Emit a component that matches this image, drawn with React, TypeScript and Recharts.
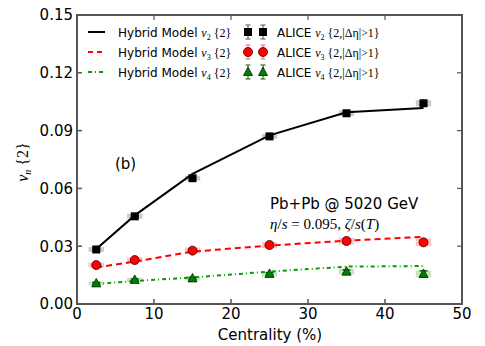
import React from "react";
import {
  ComposedChart,
  Line,
  Scatter,
  XAxis,
  YAxis,
  ErrorBar,
  ReferenceArea,
} from "recharts";

// centrality bins (%)
const centrality = [2.5, 7.5, 15, 25, 35, 45];

// hybrid model curves
const hybridV2 = [0.0285, 0.046, 0.0675, 0.0875, 0.0995, 0.1017];
const hybridV3 = [0.019, 0.022, 0.0272, 0.0303, 0.0329, 0.0349];
const hybridV4 = [0.0104, 0.0119, 0.0138, 0.0168, 0.0194, 0.0197];

// ALICE data, stat and sys errors
const aliceV2 = [0.0283, 0.0455, 0.0653, 0.087, 0.099, 0.1042];
const aliceV3 = [0.0202, 0.0228, 0.0277, 0.0306, 0.0327, 0.032];
const aliceV4 = [0.0107, 0.0125, 0.0133, 0.0156, 0.0168, 0.0156];
const statV2 = [0.0003, 0.0003, 0.0003, 0.0004, 0.0005, 0.0008];
const statV3 = [0.0004, 0.0004, 0.0004, 0.0005, 0.0006, 0.0012];
const statV4 = [0.0005, 0.0005, 0.0005, 0.0006, 0.0009, 0.0016];
const sysV2 = [0.0013, 0.0013, 0.0013, 0.0013, 0.0014, 0.0016];
const sysV3 = [0.0013, 0.0013, 0.0016, 0.0016, 0.0018, 0.002];
const sysV4 = [0.0011, 0.0011, 0.0011, 0.0013, 0.0015, 0.0017];
const sysHalfWidth = 1;

const xTicks = [0, 10, 20, 30, 40, 50];
const yTicks = [0, 0.03, 0.06, 0.09, 0.12, 0.15];
const xDomain = [0, 50];
const yDomain = [0, 0.15];

// plot box (matches chart margins / axis sizes below)
const W = 485;
const H = 346;
const PL = 77;
const PT = 15;
const PR = W - 23;
const PB = H - 42;

const modelRows = centrality.map((x, i) => ({
  x,
  v2: hybridV2[i],
  v3: hybridV3[i],
  v4: hybridV4[i],
}));

const toPoints = (vals: number[], stat: number[], sys: number[]) =>
  centrality.map((x, i) => ({ x, y: vals[i], err: stat[i], sys: sys[i] }));

const ptsV2 = toPoints(aliceV2, statV2, sysV2);
const ptsV3 = toPoints(aliceV3, statV3, sysV3);
const ptsV4 = toPoints(aliceV4, statV4, sysV4);

const Square = (p: any) => (
  <rect x={p.cx - 4} y={p.cy - 4} width={8} height={8} fill="#000" />
);
const Dot = (p: any) => (
  <circle cx={p.cx} cy={p.cy} r={4.5} fill="#ff0000" stroke="#400" strokeWidth={0.8} />
);
const Tri = (p: any) => (
  <polygon
    points={`${p.cx},${p.cy - 5} ${p.cx - 4.5},${p.cy + 3.5} ${p.cx + 4.5},${p.cy + 3.5}`}
    fill="#008000"
    stroke="#002000"
    strokeWidth={0.8}
  />
);

const sans = "'DejaVu Sans', sans-serif";
const serif = "'Liberation Serif', serif";
const AXIS = "#555";

function MathSub({ n, tail }: { n: string; tail: string }) {
  return (
    <>
      <tspan fontFamily={serif} fontStyle="italic">v</tspan>
      <tspan fontFamily={serif} fontSize={8} dy={3}>{n}</tspan>
      <tspan fontFamily={serif} dy={-3}>{tail}</tspan>
    </>
  );
}

function Overlay() {
  const rows = [
    { n: "2", color: "#000", dash: undefined as string | undefined },
    { n: "3", color: "#ff0000", dash: "5 4" },
    { n: "4", color: "#00a000", dash: "4 3 1 3" },
  ];
  const markers = [Square, Dot, Tri];
  const barColors = ["#555", "#f66", "#060"];
  const tx = (v: number) => PL + ((v - xDomain[0]) / (xDomain[1] - xDomain[0])) * (PR - PL);
  const ty = (v: number) => PB - ((v - yDomain[0]) / (yDomain[1] - yDomain[0])) * (PB - PT);
  return (
    <svg
      width={W}
      height={H}
      style={{ position: "absolute", left: 0, top: 0, zIndex: 10, pointerEvents: "none" }}
    >
      {/* frame with inward ticks on top and right */}
      <rect
        x={PL}
        y={PT}
        width={PR - PL}
        height={PB - PT}
        fill="none"
        stroke={AXIS}
        strokeWidth={2}
      />
      {xTicks.map((t) => (
        <line key={`tx${t}`} x1={tx(t)} x2={tx(t)} y1={PT} y2={PT + 5} stroke={AXIS} strokeWidth={1.2} />
      ))}
      {yTicks.map((t) => (
        <line key={`ty${t}`} x1={PR} x2={PR - 5} y1={ty(t)} y2={ty(t)} stroke={AXIS} strokeWidth={1.2} />
      ))}
      {rows.map((r, i) => {
        const cy = 32 + i * 20;
        const M = markers[i];
        return (
          <g key={r.n}>
            <line x1={88} x2={105} y1={cy} y2={cy} stroke={r.color} strokeWidth={2} strokeDasharray={r.dash} />
            <text x={118} y={cy + 4.5} fontFamily={sans} fontSize={12} fill="#000">
              Hybrid Model <MathSub n={r.n} tail=" {2}" />
            </text>
            {[248, 263].map((mx) => (
              <g key={mx}>
                <line x1={mx} x2={mx} y1={cy - 7} y2={cy + 7} stroke={barColors[i]} strokeWidth={1} />
                <line x1={mx - 2.5} x2={mx + 2.5} y1={cy - 7} y2={cy - 7} stroke={barColors[i]} />
                <line x1={mx - 2.5} x2={mx + 2.5} y1={cy + 7} y2={cy + 7} stroke={barColors[i]} />
                <M cx={mx} cy={cy} />
              </g>
            ))}
            <text x={277} y={cy + 4.5} fontFamily={sans} fontSize={12} fill="#000">
              ALICE <MathSub n={r.n} tail=" {2,|Δη|>1}" />
            </text>
          </g>
        );
      })}
      <text x={115} y={169} fontFamily={sans} fontSize={15} fill="#000">(b)</text>
      <text x={270} y={209} fontFamily={sans} fontSize={15} fill="#000">Pb+Pb @ 5020 GeV</text>
      <text x={270} y={229} fontFamily={serif} fontSize={15} fill="#000">
        <tspan fontStyle="italic">η</tspan>/<tspan fontStyle="italic">s</tspan> = 0.095,{" "}
        <tspan fontStyle="italic">ζ</tspan>/<tspan fontStyle="italic">s</tspan>(<tspan fontStyle="italic">T</tspan>)
      </text>
      <text x={270} y={340} textAnchor="middle" fontFamily={sans} fontSize={15} fill="#000">
        Centrality (%)
      </text>
      <text
        transform="translate(28,162) rotate(-90)"
        textAnchor="middle"
        fontFamily={serif}
        fontSize={16}
        fill="#000"
      >
        <tspan fontStyle="italic">v</tspan>
        <tspan fontSize={10} dy={3} fontStyle="italic">n</tspan>
        <tspan dy={-3}> {"{2}"}</tspan>
      </text>
    </svg>
  );
}

export default function App() {
  const sysBoxes = [
    { pts: ptsV2, fill: "#9a9a9a", op: 0.5 },
    { pts: ptsV3, fill: "#f08080", op: 0.45 },
    { pts: ptsV4, fill: "#7cc47c", op: 0.45 },
  ];
  const tickStyle = { fontFamily: sans, fontSize: 15, fill: "#000" };
  return (
    <div style={{ position: "absolute", left: 0, top: 0, width: W, height: H, background: "#fff" }}>
      <ComposedChart
        width={W}
        height={H}
        data={modelRows}
        margin={{ top: PT, right: W - PR, bottom: 0, left: 0 }}
      >
        <XAxis
          type="number"
          dataKey="x"
          domain={xDomain}
          ticks={xTicks}
          height={H - PB}
          stroke={AXIS}
          strokeWidth={1.5}
          tickSize={-5}
          tickMargin={9}
          tick={tickStyle}
          interval={0}
        />
        <YAxis
          type="number"
          domain={yDomain}
          ticks={yTicks}
          width={PL}
          stroke={AXIS}
          strokeWidth={1.5}
          tickSize={-5}
          tickMargin={9}
          tick={tickStyle}
          tickFormatter={(v: number) => v.toFixed(2)}
          interval={0}
        />
        {sysBoxes.map((s, k) =>
          s.pts.map((p, i) => (
            <ReferenceArea
              key={`${k}-${i}`}
              x1={p.x - sysHalfWidth}
              x2={p.x + sysHalfWidth}
              y1={p.y - p.sys}
              y2={p.y + p.sys}
              fill={s.fill}
              fillOpacity={s.op}
              stroke="none"
            />
          ))
        )}
        <Line dataKey="v2" stroke="#000" strokeWidth={2} dot={false} isAnimationActive={false} />
        <Line dataKey="v3" stroke="#ff0000" strokeWidth={2} strokeDasharray="6 4" dot={false} isAnimationActive={false} />
        <Line dataKey="v4" stroke="#00a000" strokeWidth={2} strokeDasharray="4 3 1 3" dot={false} isAnimationActive={false} />
        <Scatter data={ptsV2} dataKey="y" shape={Square} isAnimationActive={false}>
          <ErrorBar dataKey="err" direction="y" width={4} stroke="#555" />
        </Scatter>
        <Scatter data={ptsV3} dataKey="y" shape={Dot} isAnimationActive={false}>
          <ErrorBar dataKey="err" direction="y" width={4} stroke="#f66" />
        </Scatter>
        <Scatter data={ptsV4} dataKey="y" shape={Tri} isAnimationActive={false}>
          <ErrorBar dataKey="err" direction="y" width={4} stroke="#060" />
        </Scatter>
      </ComposedChart>
      <Overlay />
    </div>
  );
}
